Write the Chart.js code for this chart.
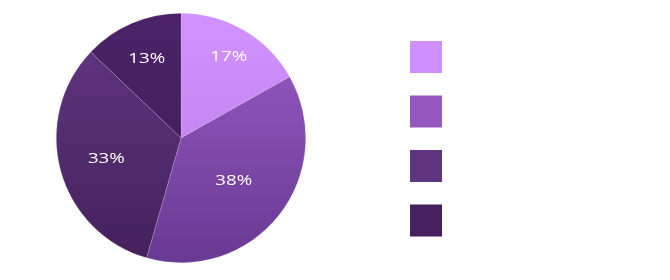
<!DOCTYPE html>
<html>
<head>
<meta charset="utf-8">
<script src="https://cdn.jsdelivr.net/npm/chart.js@4/dist/chart.umd.min.js"></script>
<style>
  html, body { margin: 0; padding: 0; background: #fff; }
  #wrap { width: 670px; height: 280px; }
</style>
</head>
<body>
<div id="wrap"><canvas id="chart" width="670" height="280"></canvas></div>
<script>
const categories = ["A", "B", "C", "D"];
const values = [17, 38, 33, 13];
const legendColors = ["#d08fff", "#9558bf", "#5f357f", "#472060"];
const topColors = ["#d292ff", "#9a5cc6", "#633883", "#4c2369"];
const bottomColors = ["#b97ce6", "#683a92", "#44205c", "#3c1b55"];
const labelRadius = [0.76, 0.54, 0.62, 0.7];

canvas = document.getElementById("chart");
ctx = canvas.getContext("2d");

function sliceFill(context) {
    const area = context.chart.chartArea;
    const i = context.dataIndex;
    if (!area) return legendColors[i];
    const g = context.chart.ctx.createLinearGradient(0, area.top, 0, area.bottom);
    g.addColorStop(0, topColors[i]);
    g.addColorStop(1, bottomColors[i]);
    return g;
}

// percent text inside each slice, font stretched wide like the original
const sliceLabels = {
    id: "sliceLabels",
    afterDatasetsDraw(chart) {
        const c = chart.ctx;
        const meta = chart.getDatasetMeta(0);
        meta.data.forEach((arc, i) => {
            const p = arc.getProps(["x", "y", "startAngle", "endAngle", "outerRadius"], true);
            const mid = (p.startAngle + p.endAngle) / 2;
            const r = p.outerRadius * labelRadius[i];
            const x = p.x + Math.cos(mid) * r;
            const y = p.y + Math.sin(mid) * r + 1;
            c.save();
            c.translate(x, y);
            c.scale(1.25, 1);
            c.fillStyle = "#ffffff";
            c.font = '15px "Open Sans"';
            c.textAlign = "center";
            c.textBaseline = "middle";
            c.fillText(values[i] + "%", 0, 0);
            c.restore();
        });
    }
};

const squareLegend = {
    id: "squareLegend",
    afterDraw(chart) {
        const c = chart.ctx;
        c.save();
        categories.forEach((name, i) => {
            c.fillStyle = legendColors[i];
            c.fillRect(410, 41 + i * 54.5, 32, 32);
        });
        c.restore();
    }
};

new Chart(ctx, {
    type: "pie",
    data: {
        labels: categories,
        datasets: [{
            data: values,
            backgroundColor: sliceFill,
            borderColor: "rgba(255,255,255,0.25)",
            borderWidth: 0.6
        }]
    },
    options: {
        responsive: false,
        animation: false,
        layout: { padding: { left: 56, top: 13, right: 364, bottom: 17 } },
        plugins: {
            legend: { display: false },
            tooltip: { enabled: false }
        }
    },
    plugins: [sliceLabels, squareLegend]
});
</script>
</body>
</html>
